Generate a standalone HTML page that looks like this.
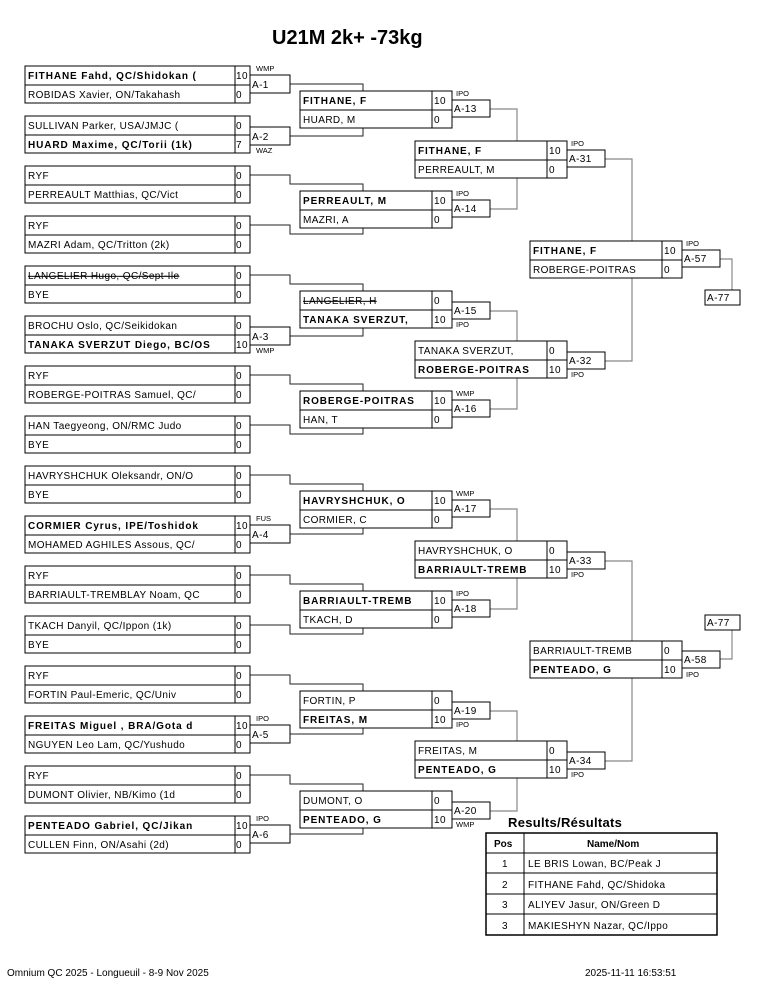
<!DOCTYPE html>
<html><head><meta charset="utf-8"><style>
html,body{margin:0;padding:0;background:#fff;}
svg{display:block;font-family:"Liberation Sans",Arial,sans-serif;}
text{font-size:10px;letter-spacing:0.4px;fill:#000;}
.b{font-weight:bold;letter-spacing:0.9px;}
.a{font-size:7.5px;letter-spacing:0;}
.box{fill:#fff;stroke:#000;stroke-width:1;}
.c1{fill:none;stroke:#222;stroke-width:1;}
.c2{fill:none;stroke:#888;stroke-width:1.2;}
</style></head><body>
<svg width="765" height="990" viewBox="0 0 765 990" xmlns="http://www.w3.org/2000/svg">
<text x="272" y="44" style="font-size:20px;font-weight:bold;letter-spacing:0">U21M 2k+ -73kg</text>

<!-- connectors round1 -> round2 -->
<g class="c1">
<path d="M290,84H363V91"/><path d="M290,136H363V128"/>
<path d="M250,175H290V184H363V191"/><path d="M250,225H290V234H363V228"/>
<path d="M250,275H290V284H363V291"/><path d="M290,336H363V328"/>
<path d="M250,375H290V384H363V391"/><path d="M250,425H290V434H363V428"/>
<path d="M250,475H290V484H363V491"/><path d="M290,534H363V528"/>
<path d="M250,575H290V584H363V591"/><path d="M250,625H290V634H363V628"/>
<path d="M250,675H290V684H363V691"/><path d="M290,734H363V728"/>
<path d="M250,775H290V784H363V791"/><path d="M290,834H363V828"/>
</g>
<g class="c2">
<path d="M490,109H517V141"/><path d="M490,209H517V178"/>
<path d="M490,311H517V341"/><path d="M490,409H517V378"/>
<path d="M490,509H517V541"/><path d="M490,609H517V578"/>
<path d="M490,711H517V741"/><path d="M490,811H517V778"/>
<path d="M605,159H632V241"/><path d="M605,361H632V278"/>
<path d="M605,561H632V641"/><path d="M605,761H632V678"/>
<path d="M720,259H732V290"/><path d="M720,659H732V630"/>
</g>

<!-- Round 1 -->
<g>
<rect class="box" x="25" y="66" width="210" height="37"/><rect class="box" x="235" y="66" width="15" height="37"/><line x1="25" y1="85" x2="250" y2="85" stroke="#000"/>
<text class="b" x="28" y="79">FITHANE Fahd, QC/Shidokan (</text><text x="236" y="79">10</text>
<text x="28" y="98">ROBIDAS Xavier, ON/Takahash</text><text x="236" y="98">0</text>

<rect class="box" x="25" y="116" width="210" height="37"/><rect class="box" x="235" y="116" width="15" height="37"/><line x1="25" y1="135" x2="250" y2="135" stroke="#000"/>
<text x="28" y="129">SULLIVAN Parker, USA/JMJC (</text><text x="236" y="129">0</text>
<text class="b" x="28" y="148">HUARD Maxime, QC/Torii (1k)</text><text x="236" y="148">7</text>

<rect class="box" x="25" y="166" width="210" height="37"/><rect class="box" x="235" y="166" width="15" height="37"/><line x1="25" y1="185" x2="250" y2="185" stroke="#000"/>
<text x="28" y="179">RYF</text><text x="236" y="179">0</text>
<text x="28" y="198">PERREAULT Matthias, QC/Vict</text><text x="236" y="198">0</text>

<rect class="box" x="25" y="216" width="210" height="37"/><rect class="box" x="235" y="216" width="15" height="37"/><line x1="25" y1="235" x2="250" y2="235" stroke="#000"/>
<text x="28" y="229">RYF</text><text x="236" y="229">0</text>
<text x="28" y="248">MAZRI Adam, QC/Tritton (2k)</text><text x="236" y="248">0</text>

<rect class="box" x="25" y="266" width="210" height="37"/><rect class="box" x="235" y="266" width="15" height="37"/><line x1="25" y1="285" x2="250" y2="285" stroke="#000"/>
<text x="28" y="279" text-decoration="line-through">LANGELIER Hugo, QC/Sept-Ile</text><text x="236" y="279">0</text>
<text x="28" y="298">BYE</text><text x="236" y="298">0</text>

<rect class="box" x="25" y="316" width="210" height="37"/><rect class="box" x="235" y="316" width="15" height="37"/><line x1="25" y1="335" x2="250" y2="335" stroke="#000"/>
<text x="28" y="329">BROCHU Oslo, QC/Seikidokan</text><text x="236" y="329">0</text>
<text class="b" x="28" y="348">TANAKA SVERZUT Diego, BC/OS</text><text x="236" y="348">10</text>

<rect class="box" x="25" y="366" width="210" height="37"/><rect class="box" x="235" y="366" width="15" height="37"/><line x1="25" y1="385" x2="250" y2="385" stroke="#000"/>
<text x="28" y="379">RYF</text><text x="236" y="379">0</text>
<text x="28" y="398">ROBERGE-POITRAS Samuel, QC/</text><text x="236" y="398">0</text>

<rect class="box" x="25" y="416" width="210" height="37"/><rect class="box" x="235" y="416" width="15" height="37"/><line x1="25" y1="435" x2="250" y2="435" stroke="#000"/>
<text x="28" y="429">HAN Taegyeong, ON/RMC Judo</text><text x="236" y="429">0</text>
<text x="28" y="448">BYE</text><text x="236" y="448">0</text>

<rect class="box" x="25" y="466" width="210" height="37"/><rect class="box" x="235" y="466" width="15" height="37"/><line x1="25" y1="485" x2="250" y2="485" stroke="#000"/>
<text x="28" y="479">HAVRYSHCHUK Oleksandr, ON/O</text><text x="236" y="479">0</text>
<text x="28" y="498">BYE</text><text x="236" y="498">0</text>

<rect class="box" x="25" y="516" width="210" height="37"/><rect class="box" x="235" y="516" width="15" height="37"/><line x1="25" y1="535" x2="250" y2="535" stroke="#000"/>
<text class="b" x="28" y="529">CORMIER Cyrus, IPE/Toshidok</text><text x="236" y="529">10</text>
<text x="28" y="548">MOHAMED AGHILES Assous, QC/</text><text x="236" y="548">0</text>

<rect class="box" x="25" y="566" width="210" height="37"/><rect class="box" x="235" y="566" width="15" height="37"/><line x1="25" y1="585" x2="250" y2="585" stroke="#000"/>
<text x="28" y="579">RYF</text><text x="236" y="579">0</text>
<text x="28" y="598">BARRIAULT-TREMBLAY Noam, QC</text><text x="236" y="598">0</text>

<rect class="box" x="25" y="616" width="210" height="37"/><rect class="box" x="235" y="616" width="15" height="37"/><line x1="25" y1="635" x2="250" y2="635" stroke="#000"/>
<text x="28" y="629">TKACH Danyil, QC/Ippon (1k)</text><text x="236" y="629">0</text>
<text x="28" y="648">BYE</text><text x="236" y="648">0</text>

<rect class="box" x="25" y="666" width="210" height="37"/><rect class="box" x="235" y="666" width="15" height="37"/><line x1="25" y1="685" x2="250" y2="685" stroke="#000"/>
<text x="28" y="679">RYF</text><text x="236" y="679">0</text>
<text x="28" y="698">FORTIN Paul-Emeric, QC/Univ</text><text x="236" y="698">0</text>

<rect class="box" x="25" y="716" width="210" height="37"/><rect class="box" x="235" y="716" width="15" height="37"/><line x1="25" y1="735" x2="250" y2="735" stroke="#000"/>
<text class="b" x="28" y="729">FREITAS Miguel , BRA/Gota d</text><text x="236" y="729">10</text>
<text x="28" y="748">NGUYEN Leo Lam, QC/Yushudo</text><text x="236" y="748">0</text>

<rect class="box" x="25" y="766" width="210" height="37"/><rect class="box" x="235" y="766" width="15" height="37"/><line x1="25" y1="785" x2="250" y2="785" stroke="#000"/>
<text x="28" y="779">RYF</text><text x="236" y="779">0</text>
<text x="28" y="798">DUMONT Olivier, NB/Kimo (1d</text><text x="236" y="798">0</text>

<rect class="box" x="25" y="816" width="210" height="37"/><rect class="box" x="235" y="816" width="15" height="37"/><line x1="25" y1="835" x2="250" y2="835" stroke="#000"/>
<text class="b" x="28" y="829">PENTEADO Gabriel, QC/Jikan</text><text x="236" y="829">10</text>
<text x="28" y="848">CULLEN Finn, ON/Asahi (2d)</text><text x="236" y="848">0</text>
</g>

<!-- Round1 labels -->
<g>
<rect class="box" x="250" y="75" width="40" height="18"/><text x="252" y="88">A-1</text><text class="a" x="256" y="71">WMP</text>
<rect class="box" x="250" y="127" width="40" height="18"/><text x="252" y="140">A-2</text><text class="a" x="256" y="153">WAZ</text>
<rect class="box" x="250" y="327" width="40" height="18"/><text x="252" y="340">A-3</text><text class="a" x="256" y="353">WMP</text>
<rect class="box" x="250" y="525" width="40" height="18"/><text x="252" y="538">A-4</text><text class="a" x="256" y="521">FUS</text>
<rect class="box" x="250" y="725" width="40" height="18"/><text x="252" y="738">A-5</text><text class="a" x="256" y="721">IPO</text>
<rect class="box" x="250" y="825" width="40" height="18"/><text x="252" y="838">A-6</text><text class="a" x="256" y="821">IPO</text>
</g>

<!-- Round 2 -->
<g>
<rect class="box" x="300" y="91" width="132" height="37"/><rect class="box" x="432" y="91" width="20" height="37"/><line x1="300" y1="110" x2="452" y2="110" stroke="#000"/>
<text class="b" x="303" y="104">FITHANE, F</text><text x="434" y="104">10</text><text x="303" y="123">HUARD, M</text><text x="434" y="123">0</text>
<rect class="box" x="452" y="100" width="38" height="17"/><text x="454" y="112">A-13</text><text class="a" x="456" y="96">IPO</text>

<rect class="box" x="300" y="191" width="132" height="37"/><rect class="box" x="432" y="191" width="20" height="37"/><line x1="300" y1="210" x2="452" y2="210" stroke="#000"/>
<text class="b" x="303" y="204">PERREAULT, M</text><text x="434" y="204">10</text><text x="303" y="223">MAZRI, A</text><text x="434" y="223">0</text>
<rect class="box" x="452" y="200" width="38" height="17"/><text x="454" y="212">A-14</text><text class="a" x="456" y="196">IPO</text>

<rect class="box" x="300" y="291" width="132" height="37"/><rect class="box" x="432" y="291" width="20" height="37"/><line x1="300" y1="310" x2="452" y2="310" stroke="#000"/>
<text x="303" y="304" text-decoration="line-through">LANGELIER, H</text><text x="434" y="304">0</text><text class="b" x="303" y="323">TANAKA SVERZUT,</text><text x="434" y="323">10</text>
<rect class="box" x="452" y="302" width="38" height="17"/><text x="454" y="314">A-15</text><text class="a" x="456" y="327">IPO</text>

<rect class="box" x="300" y="391" width="132" height="37"/><rect class="box" x="432" y="391" width="20" height="37"/><line x1="300" y1="410" x2="452" y2="410" stroke="#000"/>
<text class="b" x="303" y="404">ROBERGE-POITRAS</text><text x="434" y="404">10</text><text x="303" y="423">HAN, T</text><text x="434" y="423">0</text>
<rect class="box" x="452" y="400" width="38" height="17"/><text x="454" y="412">A-16</text><text class="a" x="456" y="396">WMP</text>

<rect class="box" x="300" y="491" width="132" height="37"/><rect class="box" x="432" y="491" width="20" height="37"/><line x1="300" y1="510" x2="452" y2="510" stroke="#000"/>
<text class="b" x="303" y="504">HAVRYSHCHUK, O</text><text x="434" y="504">10</text><text x="303" y="523">CORMIER, C</text><text x="434" y="523">0</text>
<rect class="box" x="452" y="500" width="38" height="17"/><text x="454" y="512">A-17</text><text class="a" x="456" y="496">WMP</text>

<rect class="box" x="300" y="591" width="132" height="37"/><rect class="box" x="432" y="591" width="20" height="37"/><line x1="300" y1="610" x2="452" y2="610" stroke="#000"/>
<text class="b" x="303" y="604">BARRIAULT-TREMB</text><text x="434" y="604">10</text><text x="303" y="623">TKACH, D</text><text x="434" y="623">0</text>
<rect class="box" x="452" y="600" width="38" height="17"/><text x="454" y="612">A-18</text><text class="a" x="456" y="596">IPO</text>

<rect class="box" x="300" y="691" width="132" height="37"/><rect class="box" x="432" y="691" width="20" height="37"/><line x1="300" y1="710" x2="452" y2="710" stroke="#000"/>
<text x="303" y="704">FORTIN, P</text><text x="434" y="704">0</text><text class="b" x="303" y="723">FREITAS, M</text><text x="434" y="723">10</text>
<rect class="box" x="452" y="702" width="38" height="17"/><text x="454" y="714">A-19</text><text class="a" x="456" y="727">IPO</text>

<rect class="box" x="300" y="791" width="132" height="37"/><rect class="box" x="432" y="791" width="20" height="37"/><line x1="300" y1="810" x2="452" y2="810" stroke="#000"/>
<text x="303" y="804">DUMONT, O</text><text x="434" y="804">0</text><text class="b" x="303" y="823">PENTEADO, G</text><text x="434" y="823">10</text>
<rect class="box" x="452" y="802" width="38" height="17"/><text x="454" y="814">A-20</text><text class="a" x="456" y="827">WMP</text>
</g>

<!-- Round 3 -->
<g>
<rect class="box" x="415" y="141" width="132" height="37"/><rect class="box" x="547" y="141" width="20" height="37"/><line x1="415" y1="160" x2="567" y2="160" stroke="#000"/>
<text class="b" x="418" y="154">FITHANE, F</text><text x="549" y="154">10</text><text x="418" y="173">PERREAULT, M</text><text x="549" y="173">0</text>
<rect class="box" x="567" y="150" width="38" height="17"/><text x="569" y="162">A-31</text><text class="a" x="571" y="146">IPO</text>

<rect class="box" x="415" y="341" width="132" height="37"/><rect class="box" x="547" y="341" width="20" height="37"/><line x1="415" y1="360" x2="567" y2="360" stroke="#000"/>
<text x="418" y="354">TANAKA SVERZUT,</text><text x="549" y="354">0</text><text class="b" x="418" y="373">ROBERGE-POITRAS</text><text x="549" y="373">10</text>
<rect class="box" x="567" y="352" width="38" height="17"/><text x="569" y="364">A-32</text><text class="a" x="571" y="377">IPO</text>

<rect class="box" x="415" y="541" width="132" height="37"/><rect class="box" x="547" y="541" width="20" height="37"/><line x1="415" y1="560" x2="567" y2="560" stroke="#000"/>
<text x="418" y="554">HAVRYSHCHUK, O</text><text x="549" y="554">0</text><text class="b" x="418" y="573">BARRIAULT-TREMB</text><text x="549" y="573">10</text>
<rect class="box" x="567" y="552" width="38" height="17"/><text x="569" y="564">A-33</text><text class="a" x="571" y="577">IPO</text>

<rect class="box" x="415" y="741" width="132" height="37"/><rect class="box" x="547" y="741" width="20" height="37"/><line x1="415" y1="760" x2="567" y2="760" stroke="#000"/>
<text x="418" y="754">FREITAS, M</text><text x="549" y="754">0</text><text class="b" x="418" y="773">PENTEADO, G</text><text x="549" y="773">10</text>
<rect class="box" x="567" y="752" width="38" height="17"/><text x="569" y="764">A-34</text><text class="a" x="571" y="777">IPO</text>
</g>

<!-- Round 4 -->
<g>
<rect class="box" x="530" y="241" width="132" height="37"/><rect class="box" x="662" y="241" width="20" height="37"/><line x1="530" y1="260" x2="682" y2="260" stroke="#000"/>
<text class="b" x="533" y="254">FITHANE, F</text><text x="664" y="254">10</text><text x="533" y="273">ROBERGE-POITRAS</text><text x="664" y="273">0</text>
<rect class="box" x="682" y="250" width="38" height="17"/><text x="684" y="262">A-57</text><text class="a" x="686" y="246">IPO</text>
<rect class="box" x="705" y="290" width="35" height="15"/><text x="707" y="301">A-77</text>

<rect class="box" x="530" y="641" width="132" height="37"/><rect class="box" x="662" y="641" width="20" height="37"/><line x1="530" y1="660" x2="682" y2="660" stroke="#000"/>
<text x="533" y="654">BARRIAULT-TREMB</text><text x="664" y="654">0</text><text class="b" x="533" y="673">PENTEADO, G</text><text x="664" y="673">10</text>
<rect class="box" x="682" y="651" width="38" height="17"/><text x="684" y="663">A-58</text><text class="a" x="686" y="677">IPO</text>
<rect class="box" x="705" y="615" width="35" height="15"/><text x="707" y="626">A-77</text>
</g>

<!-- Results -->
<text x="508" y="827" style="font-size:13px;font-weight:bold;letter-spacing:0.3px">Results/Résultats</text>
<g>
<rect x="486" y="833" width="231" height="102" fill="#fff" stroke="#000" stroke-width="1.5"/>
<line x1="486" y1="853" x2="717" y2="853" stroke="#000"/>
<line x1="486" y1="873" x2="717" y2="873" stroke="#000"/>
<line x1="486" y1="894" x2="717" y2="894" stroke="#000"/>
<line x1="486" y1="914" x2="717" y2="914" stroke="#000"/>
<line x1="524" y1="833" x2="524" y2="935" stroke="#000"/>
<text class="b" x="494" y="847" style="letter-spacing:0">Pos</text>
<text class="b" x="587" y="847" style="letter-spacing:0">Name/Nom</text>
<text x="502" y="867">1</text><text x="528" y="867">LE BRIS Lowan, BC/Peak J</text>
<text x="502" y="888">2</text><text x="528" y="888">FITHANE Fahd, QC/Shidoka</text>
<text x="502" y="908">3</text><text x="528" y="908">ALIYEV Jasur, ON/Green D</text>
<text x="502" y="929">3</text><text x="528" y="929">MAKIESHYN Nazar, QC/Ippo</text>
</g>

<text x="7" y="976" style="letter-spacing:0">Omnium QC 2025 - Longueuil - 8-9 Nov 2025</text>
<text x="585" y="976" style="letter-spacing:0">2025-11-11 16:53:51</text>
</svg>
</body></html>
